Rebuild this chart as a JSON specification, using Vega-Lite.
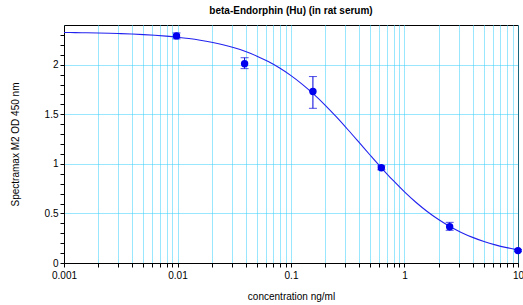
{
  "$schema": "https://vega.github.io/schema/vega-lite/v6.json",
  "autosize": "none",
  "width": 454,
  "height": 238,
  "padding": {"left": 64, "top": 25, "right": 5, "bottom": 42},
  "background": "white",
  "config": {
    "view": {"stroke": "#000000", "strokeWidth": 1},
    "font": "Liberation Sans",
    "axis": {"labelFont": "Liberation Sans", "titleFont": "Liberation Sans", "labelFontSize": 10, "titleFontSize": 10, "titleFontWeight": "normal", "labelColor": "#000000", "titleColor": "#000000", "domainColor": "#000000", "tickColor": "#000000", "gridColor": "#33ccff", "gridDash": [1, 1], "gridWidth": 1}
  },
  "title": {"text": "beta-Endorphin (Hu) (in rat serum)", "font": "Liberation Sans", "fontSize": 10, "fontWeight": "bold", "color": "#000000", "offset": 9, "anchor": "middle"},
  "datasets": {
    "points": [
      {"conc": 0.0098, "od": 2.29, "lo": 2.26, "hi": 2.32},
      {"conc": 0.039, "od": 2.01, "lo": 1.96, "hi": 2.07},
      {"conc": 0.156, "od": 1.73, "lo": 1.56, "hi": 1.88},
      {"conc": 0.625, "od": 0.96, "lo": 0.94, "hi": 0.98},
      {"conc": 2.5, "od": 0.365, "lo": 0.33, "hi": 0.41},
      {"conc": 10, "od": 0.125, "lo": 0.115, "hi": 0.135}
    ],
    "curve": [
      {"conc": 0.001, "od": 2.3246}, {"conc": 0.001259, "od": 2.3232}, {"conc": 0.001585, "od": 2.3214}, {"conc": 0.001995, "od": 2.3192}, {"conc": 0.002512, "od": 2.3164},
      {"conc": 0.003162, "od": 2.3129}, {"conc": 0.003981, "od": 2.3085}, {"conc": 0.005012, "od": 2.303}, {"conc": 0.00631, "od": 2.2961}, {"conc": 0.007943, "od": 2.2875},
      {"conc": 0.01, "od": 2.2767}, {"conc": 0.01259, "od": 2.2634}, {"conc": 0.01585, "od": 2.2467}, {"conc": 0.01995, "od": 2.2261}, {"conc": 0.02512, "od": 2.2008},
      {"conc": 0.03162, "od": 2.1697}, {"conc": 0.03981, "od": 2.1317}, {"conc": 0.05012, "od": 2.0858}, {"conc": 0.0631, "od": 2.0309}, {"conc": 0.07943, "od": 1.9657},
      {"conc": 0.1, "od": 1.8896}, {"conc": 0.1259, "od": 1.8019}, {"conc": 0.1585, "od": 1.7025}, {"conc": 0.1995, "od": 1.5924}, {"conc": 0.2512, "od": 1.4729},
      {"conc": 0.3162, "od": 1.3463}, {"conc": 0.3981, "od": 1.2156}, {"conc": 0.5012, "od": 1.084}, {"conc": 0.631, "od": 0.9551}, {"conc": 0.7943, "od": 0.832},
      {"conc": 1, "od": 0.7173}, {"conc": 1.259, "od": 0.6128}, {"conc": 1.585, "od": 0.5197}, {"conc": 1.995, "od": 0.4382}, {"conc": 2.512, "od": 0.368},
      {"conc": 3.162, "od": 0.3085}, {"conc": 3.981, "od": 0.2585}, {"conc": 5.012, "od": 0.2171}, {"conc": 6.31, "od": 0.1829}, {"conc": 7.943, "od": 0.155},
      {"conc": 10, "od": 0.1323}
    ]
  },
  "encoding": {
    "x": {
      "field": "conc", "type": "quantitative",
      "scale": {"type": "log", "domain": [0.001, 10], "nice": false},
      "axis": {
        "title": "concentration ng/ml", "titlePadding": 11,
        "values": [0.001, 0.002, 0.003, 0.004, 0.005, 0.006, 0.007, 0.008, 0.009, 0.01, 0.02, 0.03, 0.04, 0.05, 0.06, 0.07, 0.08, 0.09, 0.1, 0.2, 0.3, 0.4, 0.5, 0.6, 0.7, 0.8, 0.9, 1, 2, 3, 4, 5, 6, 7, 8, 9, 10],
        "format": "~g",
        "labelExpr": "abs(log(datum.value)/LN10 - round(log(datum.value)/LN10)) < 0.001 ? datum.label : ''",
        "tickSize": 4, "labelPadding": 3, "labelFlush": false, "labelOverlap": false,
        "grid": true
      }
    },
    "y": {
      "field": "od", "type": "quantitative",
      "scale": {"domain": [0, 2.4], "nice": false},
      "axis": {
        "title": "Spectramax M2 OD 450 nm", "titlePadding": 24,
        "values": [0, 0.1, 0.2, 0.3, 0.4, 0.5, 0.6, 0.7, 0.8, 0.9, 1, 1.1, 1.2, 1.3, 1.4, 1.5, 1.6, 1.7, 1.8, 1.9, 2, 2.1, 2.2, 2.3],
        "format": "~g",
        "labelExpr": "abs(datum.value*2 - round(datum.value*2)) < 0.001 ? datum.label : ''",
        "gridOpacity": {"condition": {"test": "abs(datum.value*2 - round(datum.value*2)) < 0.001", "value": 1}, "value": 0},
        "tickSize": 4, "labelPadding": 2, "labelOverlap": false,
        "grid": true
      }
    }
  },
  "layer": [
    {"data": {"name": "curve"}, "mark": {"type": "line", "color": "#2222ee", "strokeWidth": 1.1, "interpolate": "monotone"}},
    {"data": {"name": "points"}, "mark": {"type": "rule", "color": "#0000dd", "strokeWidth": 1}, "encoding": {"y": {"field": "lo", "type": "quantitative"}, "y2": {"field": "hi"}}},
    {"data": {"name": "points"}, "mark": {"type": "tick", "orient": "horizontal", "color": "#0000dd", "size": 8, "thickness": 1}, "encoding": {"y": {"field": "lo", "type": "quantitative"}}},
    {"data": {"name": "points"}, "mark": {"type": "tick", "orient": "horizontal", "color": "#0000dd", "size": 8, "thickness": 1}, "encoding": {"y": {"field": "hi", "type": "quantitative"}}},
    {"data": {"name": "points"}, "mark": {"type": "point", "shape": "circle", "filled": true, "color": "#0000ee", "opacity": 1, "size": 55}}
  ]
}
